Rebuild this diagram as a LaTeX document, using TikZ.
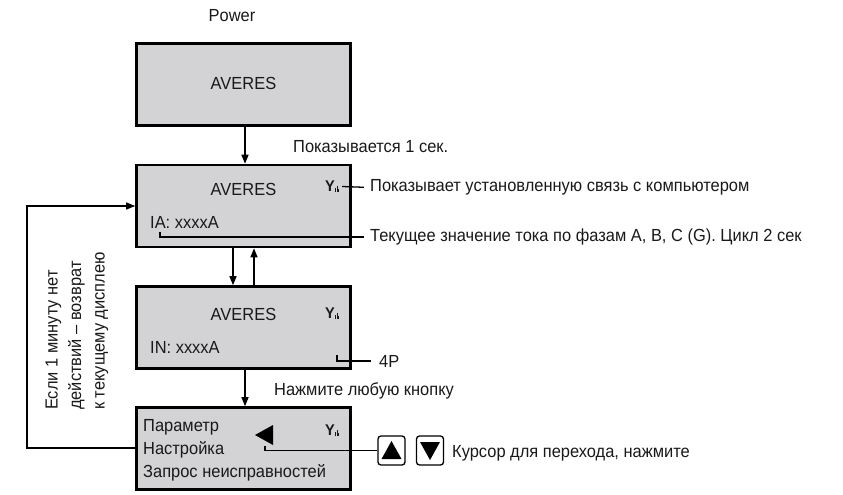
\documentclass[tikz,border=0pt]{standalone}
\usepackage{fontspec}
\setmainfont{Liberation Sans}[FakeStretch=0.94]
\usetikzlibrary{arrows.meta}
\definecolor{lcdgray}{RGB}{211,211,213}
\definecolor{ink}{RGB}{25,25,25}
\begin{document}
\begin{tikzpicture}[x=1pt,y=-1pt,
  lcd/.style={draw=black, line width=2.6pt, fill=lcdgray, minimum width=214pt, minimum height=82pt, inner sep=0pt},
  txt/.style={font=\fontsize{17.5}{23.5}\selectfont, inner sep=0pt, text=ink},
  arr/.style={line width=1.4pt, draw=black, -{Triangle[length=9pt,width=7pt]}},
  lead/.style={line width=1.3pt, draw=black},
  btn/.style={draw=black, line width=1.3pt, rounded corners=3pt, minimum width=27pt, minimum height=29pt, inner sep=0pt, fill=white},
  pics/sigicon/.style={code={
    \node[inner sep=0pt, font=\bfseries\fontsize{15.5}{15.5}\selectfont, text=ink, anchor=center] (-y) at (0,0) {Y};
    \fill[ink] (5.0,5.6) rectangle (6.0,1.5);
    \fill[ink] (6.6,5.6) rectangle (7.6,-0.5);
    \fill[ink] (8.2,5.6) rectangle (9.2,2.5);
  }}
]
\useasboundingbox (0,0) rectangle (843,495);

% boxes
\node[lcd] (b1) at (243.5,84.5) {};
\node[lcd] (b2) at (243.5,206) {};
\node[lcd] (b3) at (243.5,327.5) {};
\node[lcd] (b4) at (243.5,448.5) {};

% box 1
\node[txt, anchor=base] (power) at (232,22) {Power};
\node[txt, anchor=base] (av1) at (243.5,89.5) {AVERES};

% box 2
\node[txt, anchor=base] (av2) at (243.5,195) {AVERES};
\pic (sigA) at (330,186.5) {sigicon};
\node[txt, anchor=base west] (ia) at (150,228.5) {IA: xxxxA};
\node[txt, anchor=base west] (tcomm) at (370,191.5) {Показывает установленную связь с компьютером};
\node[txt, anchor=base west] (tcur) at (370,241.5) {Текущее значение тока по фазам A, B, C (G). Цикл 2 сек};

% box 3
\node[txt, anchor=base] (av3) at (243.5,320) {AVERES};
\pic (sigB) at (330,313) {sigicon};
\node[txt, anchor=base west] (in) at (150,353.5) {IN: xxxxA};
\node[txt, anchor=base west] (t4p) at (379,367) {4P};

% box 4
\node[txt, anchor=base west] (par) at (143,431) {Параметр};
\node[txt, anchor=base west] (nas) at (143,454.5) {Настройка};
\node[txt, anchor=base west] (zap) at (143,477.5) {Запрос неисправностей};
\pic (sigC) at (330,430) {sigicon};
\fill[black] (255,435) -- (273,425) -- (273,445) -- cycle;

% buttons
\node[btn] (btnUp) at (391.5,450.5) {};
\node[btn] (btnDn) at (430,450.5) {};
\fill[black] ([shift={(-10,8.5)}]btnUp.center) -- ([shift={(10,8.5)}]btnUp.center) -- ([shift={(0,-9.5)}]btnUp.center) -- cycle;
\fill[black] ([shift={(-10,-8.5)}]btnDn.center) -- ([shift={(10,-8.5)}]btnDn.center) -- ([shift={(0,9.5)}]btnDn.center) -- cycle;
\node[txt, anchor=base west] (tcursor) at (452,457) {Курсор для перехода, нажмите};

% arrows and labels
\draw[arr] ([xshift=1.5pt]b1.south) -- ([xshift=1.5pt]b2.north);
\node[txt, anchor=base west] (t1s) at (293,152) {Показывается 1 сек.};
\draw[arr] ([xshift=-10.5pt]b2.south) -- ([xshift=-10.5pt]b3.north);
\draw[arr] ([xshift=10.5pt]b3.north) -- ([xshift=10.5pt]b2.south);
\draw[arr] ([xshift=1.5pt]b3.south) -- ([xshift=1.5pt]b4.north);
\node[txt, anchor=base west] (tpress) at (274,395) {Нажмите любую кнопку};

% leader lines
\draw[lead] ([xshift=7pt]sigA-y.east) -- ([xshift=-6pt]tcomm.west);
\coordinate (iaTick) at (160,231.5);
\draw[lead] (iaTick) |- ([xshift=-6pt]tcur.west);
\coordinate (npTick) at (337,355);
\draw[lead] (npTick) |- ([xshift=-8pt]t4p.west);
\coordinate (curTick) at (265,446);
\draw[lead] (curTick) |- (btnUp.west);

% loop back
\coordinate (loopB) at (27,448);
\coordinate (loopT) at (27,206);
\draw[arr, line width=1.2pt] (b4.west |- loopB) -- (loopB) -- (loopT) -- (b2.west |- loopT);
\node[txt, rotate=90, align=left, anchor=west] (loopnote) at (77,410) {Если 1 минуту нет\\действий – возврат\\к текущему дисплею};
\end{tikzpicture}
\end{document}
